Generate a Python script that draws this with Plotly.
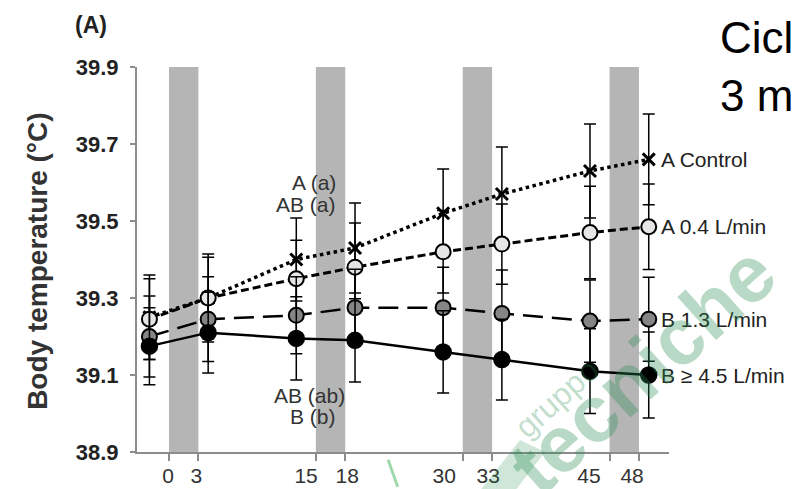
import plotly.graph_objects as go

# ---------------- data ----------------
time_min = [-2, 4, 13, 19, 28, 34, 43, 49]

series_names = ["A Control", "A 0.4 L/min", "B 1.3 L/min", "B \u2265 4.5 L/min"]
control = [39.25, 39.30, 39.40, 39.43, 39.52, 39.57, 39.63, 39.66]
control_err = [0.11, 0.114, 0.108, 0.117, 0.115, 0.122, 0.122, 0.118]
flow_04 = [39.245, 39.30, 39.35, 39.38, 39.42, 39.44, 39.47, 39.485]
flow_04_err = [0.105, 0.106, 0.10, 0.115, 0.107, 0.104, 0.12, 0.111]
flow_13 = [39.20, 39.245, 39.255, 39.275, 39.275, 39.26, 39.24, 39.245]
flow_13_err = [0.105, 0.11, 0.10, 0.10, 0.105, 0.113, 0.107, 0.109]
flow_45 = [39.175, 39.21, 39.195, 39.19, 39.16, 39.14, 39.11, 39.10]
flow_45_err = [0.10, 0.105, 0.108, 0.108, 0.107, 0.105, 0.11, 0.112]

cooling_start = [0, 15, 30, 45]
cooling_end = [3, 18, 33, 48]

x_tick_minutes = [0, 3, 15, 18, 30, 33, 45, 48]
x_tick_labels = ["0", "3", "15", "18", "30", "33", "45", "48"]
x_label_pos = [-0.1, 2.8, 14.0, 18.2, 28.1, 32.6, 42.9, 47.3]
y_ticks = [38.9, 39.1, 39.3, 39.5, 39.7, 39.9]

FONT = "Liberation Sans, Arial, sans-serif"

fig = go.Figure()

# cooling periods (grey bands)
for s, e in zip(cooling_start, cooling_end):
    fig.add_shape(type="rect", xref="x", yref="y", x0=s, x1=e, y0=38.9, y1=39.9,
                  fillcolor="#b5b5b5", line=dict(width=0), layer="below")

styles = [
    dict(y=control, err=control_err, dash="dot", lw=3.5,
         marker=dict(symbol="x-thin", size=12, color="black", line=dict(width=3, color="black"))),
    dict(y=flow_04, err=flow_04_err, dash="8px,4px", lw=3,
         marker=dict(symbol="circle", size=15, color="#e6e6e6", line=dict(width=2, color="black"))),
    dict(y=flow_13, err=flow_13_err, dash="20px,9px", lw=2.5,
         marker=dict(symbol="circle", size=15, color="#858585", line=dict(width=2, color="black"))),
    dict(y=flow_45, err=flow_45_err, dash="solid", lw=2.5,
         marker=dict(symbol="circle", size=16, color="black", line=dict(width=1.5, color="black"))),
]

for name, st in zip(series_names, styles):
    fig.add_trace(go.Scatter(
        x=time_min, y=st["y"], name=name, mode="lines+markers",
        line=dict(color="black", width=st["lw"], dash=st["dash"]),
        marker=st["marker"],
        error_y=dict(type="data", array=st["err"], visible=True,
                     color="black", thickness=1.5, width=6),
        showlegend=False,
    ))
    fig.add_annotation(x=time_min[-1], y=st["y"][-1], xref="x", yref="y",
                       text=name, showarrow=False, xanchor="left", xshift=10,
                       font=dict(family=FONT, size=21, color="#222"))

# significance letters
for txt, xx, yy in [("A (a)", 14.8, 39.601), ("AB (a)", 14.0, 39.542),
                    ("AB (ab)", 14.4, 39.048), ("B (b)", 14.7, 38.991)]:
    fig.add_annotation(x=xx, y=yy, xref="x", yref="y", text=txt, showarrow=False,
                       font=dict(family=FONT, size=21, color="#333"))

# panel label and y title
fig.add_annotation(x=-0.0865, y=1.109, xref="paper", yref="paper", text="<b>(A)</b>",
                   showarrow=False, xanchor="center", yanchor="middle",
                   font=dict(family=FONT, size=23, color="#222"))
fig.add_annotation(x=-0.186, y=0.494, xref="paper", yref="paper",
                   text="<b>Body temperature (°C)</b>", textangle=-90, showarrow=False,
                   xanchor="center", yanchor="middle",
                   font=dict(family=FONT, size=28, color="#333"))

# slide title fragment (cut at the edge)
fig.add_annotation(x=1.092, y=1.077, xref="paper", yref="paper", text="Cicl",
                   showarrow=False, xanchor="left", yanchor="middle",
                   font=dict(family=FONT, size=44, color="black"))
fig.add_annotation(x=1.092, y=0.925, xref="paper", yref="paper", text="3 m",
                   showarrow=False, xanchor="left", yanchor="middle",
                   font=dict(family=FONT, size=44, color="black"))

# watermark
fig.add_annotation(x=0.95, y=0.215, xref="paper", yref="paper", text="<b>tecniche</b>",
                   textangle=-42, showarrow=False, xanchor="center", yanchor="middle",
                   font=dict(family=FONT, size=80, color="rgba(40,140,80,0.33)"))
fig.add_annotation(x=0.79, y=0.14, xref="paper", yref="paper", text="gruppo",
                   textangle=-42, showarrow=False, xanchor="center", yanchor="middle",
                   font=dict(family=FONT, size=32, color="rgba(40,140,80,0.28)"))
fig.add_shape(type="path", xref="paper", yref="paper",
              path="M 0.645 -0.1 L 0.72 0.031 L 0.767 0.0 L 0.711 -0.1 Z",
              fillcolor="rgba(40,140,80,0.22)", line=dict(width=0))
fig.add_shape(type="line", xref="paper", yref="paper", x0=0.472, y0=-0.02, x1=0.49, y1=-0.09,
              line=dict(color="rgba(60,180,90,0.5)", width=3))

fig.update_xaxes(
    range=[-3.27, 51.07], showgrid=False, zeroline=False, automargin=False,
    showline=True, linecolor="#8c8c8c", linewidth=2,
    tickmode="array", tickvals=x_label_pos, ticktext=x_tick_labels, ticks="",
    ticklabelstandoff=4,
    tickfont=dict(family=FONT, size=21, color="#333"),
    minor=dict(tickmode="array", tickvals=x_tick_minutes, ticks="outside",
               ticklen=7, tickwidth=2, tickcolor="#8c8c8c", showgrid=False),
)
fig.update_yaxes(
    range=[38.9, 39.9], showgrid=False, zeroline=False, automargin=False,
    showline=True, linecolor="#8c8c8c", linewidth=2,
    tickmode="array", tickvals=y_ticks, ticktext=[f"<b>{v:.1f}</b>" for v in y_ticks],
    ticks="outside", ticklen=5, tickwidth=2, tickcolor="#8c8c8c",
    ticklabelstandoff=7,
    tickfont=dict(family=FONT, size=22, color="#222"),
)

fig.update_layout(
    width=792, height=489,
    margin=dict(l=137, r=123, t=67, b=37, autoexpand=False),
    plot_bgcolor="white", paper_bgcolor="white",
)

fig.write_html("out.html")
